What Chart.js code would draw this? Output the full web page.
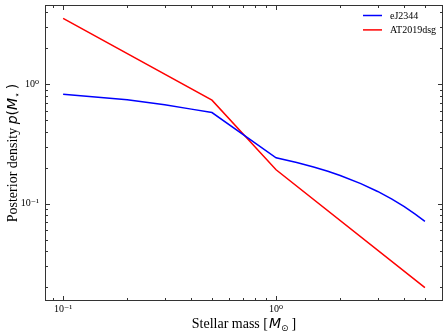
<!DOCTYPE html>
<html><head><meta charset="utf-8">
<script src="https://cdn.jsdelivr.net/npm/chart.js@4.4.1/dist/chart.umd.min.js"></script>
<style>html,body{margin:0;padding:0;background:#fff}</style>
</head><body>
<canvas id="c" width="448" height="335" style="width:448px;height:335px;display:block"></canvas>
<script>
// ---- data ----
const massEJ    = [0.1, 0.2, 0.3, 0.4, 0.5, 1.0, 1.25, 1.5, 1.75, 2.0, 2.5, 3.0, 3.5, 4.0, 4.5, 5.0];
const densityEJ = [0.825, 0.741, 0.671, 0.618, 0.579, 0.242, 0.221, 0.2025, 0.1864, 0.1719, 0.147, 0.1264, 0.1091, 0.0943, 0.0817, 0.0709];
const massAT    = [0.1, 0.5, 1.0, 5.0];
const densityAT = [3.56, 0.735, 0.192, 0.0198];
const seriesLabels = ["eJ2344", "AT2019dsg"];
const xTickValues = [0.1, 1];
const yTickValues = [0.1, 1];
const tickText = {"0.1": "10\u207B\u00B9", "1": "10\u2070"};
const xMinorValues = [0.09, 0.2, 0.3, 0.4, 0.5, 0.6, 0.7, 0.8, 0.9, 2, 3, 4, 5, 6];
const yMinorValues = [0.02, 0.03, 0.04, 0.05, 0.06, 0.07, 0.08, 0.09, 0.2, 0.3, 0.4, 0.5, 0.6, 0.7, 0.8, 0.9, 2, 3, 4];

const SERIF = "'Liberation Serif', 'DejaVu Serif', serif";
const MATH = "'DejaVu Sans', sans-serif";

function toXY(xs, ys){ return xs.map((x,i)=>({x:x, y:ys[i]})); }

function drawRuns(ctx, runs, cx, baseY){
  let total = 0;
  runs.forEach(r=>{ ctx.font = r.font; r.w = ctx.measureText(r.t).width + (r.gap||0); total += r.w; });
  let x = cx - total/2;
  runs.forEach(r=>{ ctx.font = r.font; ctx.fillText(r.t, x, baseY + (r.dy||0)); x += r.w; });
}

const framePlugin = {
  id: 'frame',
  afterDraw(chart){
    const ctx = chart.ctx, a = chart.chartArea;
    const xs = chart.scales.x, ys = chart.scales.y;
    ctx.save();
    ctx.strokeStyle = '#333';
    ctx.lineWidth = 1;
    ctx.strokeRect(Math.round(a.left)+0.5, Math.round(a.top)+0.5, Math.round(a.right-a.left)-1, Math.round(a.bottom-a.top)-1);
    const tick = (vals, len, axis) => {
      vals.forEach(v=>{
        if (axis === 'x') {
          const p = Math.round(xs.getPixelForValue(v)) + 0.5;
          if (p < a.left || p > a.right) return;
          ctx.beginPath();
          ctx.moveTo(p, a.bottom); ctx.lineTo(p, a.bottom - len);
          ctx.moveTo(p, a.top); ctx.lineTo(p, a.top + len);
          ctx.stroke();
        } else {
          const p = Math.round(ys.getPixelForValue(v)) + 0.5;
          if (p < a.top || p > a.bottom) return;
          ctx.beginPath();
          ctx.moveTo(a.left, p); ctx.lineTo(a.left + len, p);
          ctx.moveTo(a.right, p); ctx.lineTo(a.right - len, p);
          ctx.stroke();
        }
      });
    };
    tick(xTickValues, 5, 'x'); tick(xMinorValues, 3, 'x');
    tick(yTickValues, 5, 'y'); tick(yMinorValues, 3, 'y');

    // legend
    chart.data.datasets.forEach((ds, i)=>{
      const y = 15.5 + i*14.4;
      ctx.strokeStyle = ds.borderColor; ctx.lineWidth = 1.5;
      ctx.beginPath(); ctx.moveTo(363, y); ctx.lineTo(382, y); ctx.stroke();
      ctx.fillStyle = '#000'; ctx.font = '10px ' + SERIF; ctx.textBaseline = 'middle'; ctx.textAlign = 'left';
      ctx.fillText(ds.label, 390, y + 0.5);
    });

    // axis titles
    ctx.fillStyle = '#000'; ctx.textBaseline = 'alphabetic'; ctx.textAlign = 'left';
    const cx = (a.left + a.right)/2, cy = (a.top + a.bottom)/2;
    drawRuns(ctx, [
      {t:'Stellar mass ', font:'14px '+SERIF},
      {t:'[', font:'14px '+SERIF, gap:1},
      {t:'M', font:'italic 14px '+MATH},
      {t:'\u2299', font:'9px '+MATH, dy:3, gap:3},
      {t:']', font:'14px '+SERIF}
    ], cx, 327.5);
    ctx.save();
    ctx.translate(16.5, cy);
    ctx.rotate(-Math.PI/2);
    drawRuns(ctx, [
      {t:'Posterior density ', font:'14px '+SERIF},
      {t:'p', font:'italic 14px '+MATH},
      {t:'(', font:'14px '+MATH},
      {t:'M', font:'italic 14px '+MATH},
      {t:'\u22C6', font:'9px '+MATH, dy:3, gap:3},
      {t:')', font:'14px '+MATH}
    ], 0, 0);
    ctx.restore();
    ctx.restore();
  }
};

new Chart(document.getElementById('c'), {
  type: 'line',
  data: {
    datasets: [
      {label: seriesLabels[0], data: toXY(massEJ, densityEJ), borderColor: '#0000ff', borderWidth: 1.5, pointRadius: 0, tension: 0, fill: false},
      {label: seriesLabels[1], data: toXY(massAT, densityAT), borderColor: '#ff0000', borderWidth: 1.5, pointRadius: 0, tension: 0, fill: false}
    ]
  },
  options: {
    responsive: false,
    animation: false,
    devicePixelRatio: 1,
    layout: {padding: {top: 5, right: 5, left: 0, bottom: 0}},
    plugins: {legend: {display: false}, tooltip: {enabled: false}},
    scales: {
      x: {
        type: 'logarithmic', min: 0.0822, max: 6.08,
        grid: {display: false, drawTicks: false},
        border: {display: false},
        afterBuildTicks: s => { s.ticks = xTickValues.map(v=>({value:v})); },
        afterFit: s => { s.height = 34; s.paddingLeft = 0; s.paddingRight = 0; s.paddingTop = 0; s.paddingBottom = 0; },
        ticks: {padding: 2, color: '#000', font: {family: SERIF, size: 10}, maxRotation: 0, autoSkip: false,
          callback: v => tickText[String(v)] || ''}
      },
      y: {
        type: 'logarithmic', min: 0.0153, max: 4.6,
        grid: {display: false, drawTicks: false},
        border: {display: false},
        afterBuildTicks: s => { s.ticks = yTickValues.map(v=>({value:v})); },
        afterFit: s => { s.width = 45; s.paddingTop = 0; s.paddingBottom = 0; s.paddingLeft = 0; s.paddingRight = 0; },
        ticks: {padding: 6, color: '#000', font: {family: SERIF, size: 10}, autoSkip: false,
          callback: v => tickText[String(v)] || ''}
      }
    }
  },
  plugins: [framePlugin]
});
</script>
</body></html>
